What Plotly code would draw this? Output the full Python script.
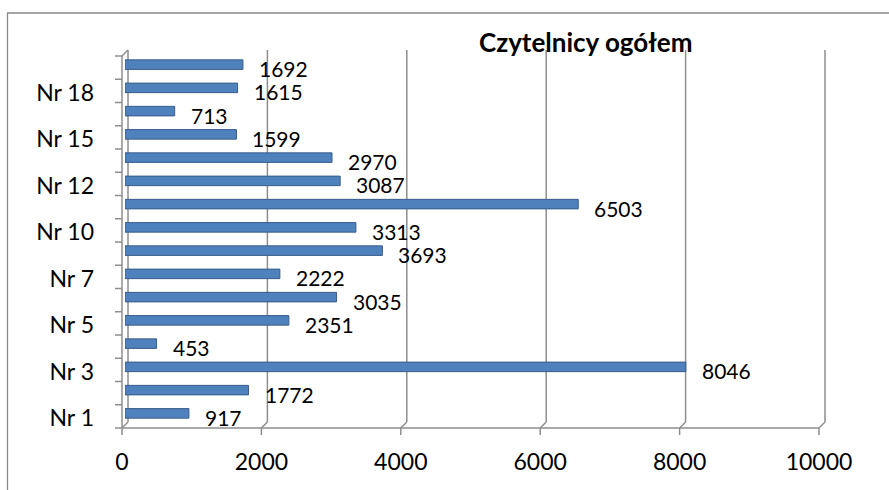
import plotly.graph_objects as go

categories = ["Nr 1", "Nr 2", "Nr 3", "Nr 4", "Nr 5", "Nr 6", "Nr 7", "Nr 8",
              "Nr 10", "Nr 11", "Nr 12", "Nr 13", "Nr 15", "Nr 16", "Nr 18", "Nr 19"]
values = [917, 1772, 8046, 453, 2351, 3035, 2222, 3693,
          3313, 6503, 3087, 2970, 1599, 713, 1615, 1692]
shown_labels = ["Nr 1", "Nr 3", "Nr 5", "Nr 7", "Nr 10", "Nr 12", "Nr 15", "Nr 18"]
x_ticks = [0, 2000, 4000, 6000, 8000, 10000]
x_tick_text = ["0", "2000", "4000", "6000", "8000", "10000"]
title_text = "Czytelnicy ogółem"

XMAX = 10000
W, H = 889, 490
L, R, T, B = 125, 67, 53, 65
PW, PH = W - L - R, H - T - B
D = 3  # half depth offset for 3D look (px)
GRID = "#8E8E8E"
FONT = "Lato"

fig = go.Figure(go.Bar(
    x=values, y=categories, orientation="h", width=0.41,
    marker=dict(color="#4F81BD", line=dict(color="#385D8A", width=1)),
))

shapes = []
def seg(ax, x0, x1, ay, y0, y1, color=GRID, w=1.5):
    shapes.append(dict(type="line", xref="paper", yref="paper",
                       xsizemode="pixel", ysizemode="pixel",
                       xanchor=ax, yanchor=ay, x0=x0, x1=x1, y0=y0, y1=y1,
                       line=dict(color=color, width=w), layer="below"))

for t in x_ticks:
    fx = t / XMAX
    seg(fx, D, D, 0, D, PH + D)          # back gridline
    seg(fx, D, -D, 0, D, -D)             # floor diagonal
    seg(fx, -D, -D, 0, -D, -D - 7)       # tick mark
seg(0, -D, PW - D, 0, -D, -D)            # front x-axis line
seg(0, -D, -D, 0, -D, PH - D)            # front y-axis line
seg(0, -D, D, 1, -D, D)                  # top-left diagonal
n = len(categories)
for k in range(n + 1):
    seg(0, -D, -D - 7, k / n, -D, -D)    # category boundary ticks

# outer chart border
shapes.append(dict(type="rect", xref="paper", yref="paper",
                   xsizemode="pixel", ysizemode="pixel", xanchor=0, yanchor=1,
                   x0=-(L - 7.5), x1=W, y0=T - 13, y1=-H,
                   line=dict(color="#8A8A8A", width=1.3), fillcolor="rgba(0,0,0,0)"))

annotations = []
for c, v in zip(categories, values):
    annotations.append(dict(x=v, y=c, xref="x", yref="y", text=str(v),
                            showarrow=False, xanchor="left", yanchor="middle",
                            xshift=14, yshift=-4,
                            font=dict(family=FONT, size=21, color="#000")))
annotations.append(dict(x=(585 - L) / PW, y=1, xref="paper", yref="paper",
                        yshift=11, text="<b>" + title_text + "</b>", showarrow=False,
                        xanchor="center", yanchor="middle",
                        font=dict(family=FONT, size=26, color="#000")))

fig.update_layout(
    width=W, height=H, margin=dict(l=L, r=R, t=T, b=B, autoexpand=False),
    paper_bgcolor="white", plot_bgcolor="white", showlegend=False,
    shapes=shapes, annotations=annotations,
    xaxis=dict(range=[0, XMAX], tickvals=x_ticks, ticktext=x_tick_text,
               showgrid=False, zeroline=False,
               showline=False, ticks="", ticklabelshift=-D, ticklabelstandoff=21,
               tickfont=dict(family=FONT, size=23, color="#000")),
    yaxis=dict(type="category", categoryorder="array", categoryarray=categories,
               range=[-0.5, n - 0.5], tickvals=shown_labels, showgrid=False,
               zeroline=False, showline=False, ticks="", ticklabelstandoff=30,
               ticklabelshift=5,
               tickfont=dict(family=FONT, size=23, color="#000")),
)

fig.write_html("out.html", config={"displayModeBar": False},
               post_script="document.body.style.margin='0';")
